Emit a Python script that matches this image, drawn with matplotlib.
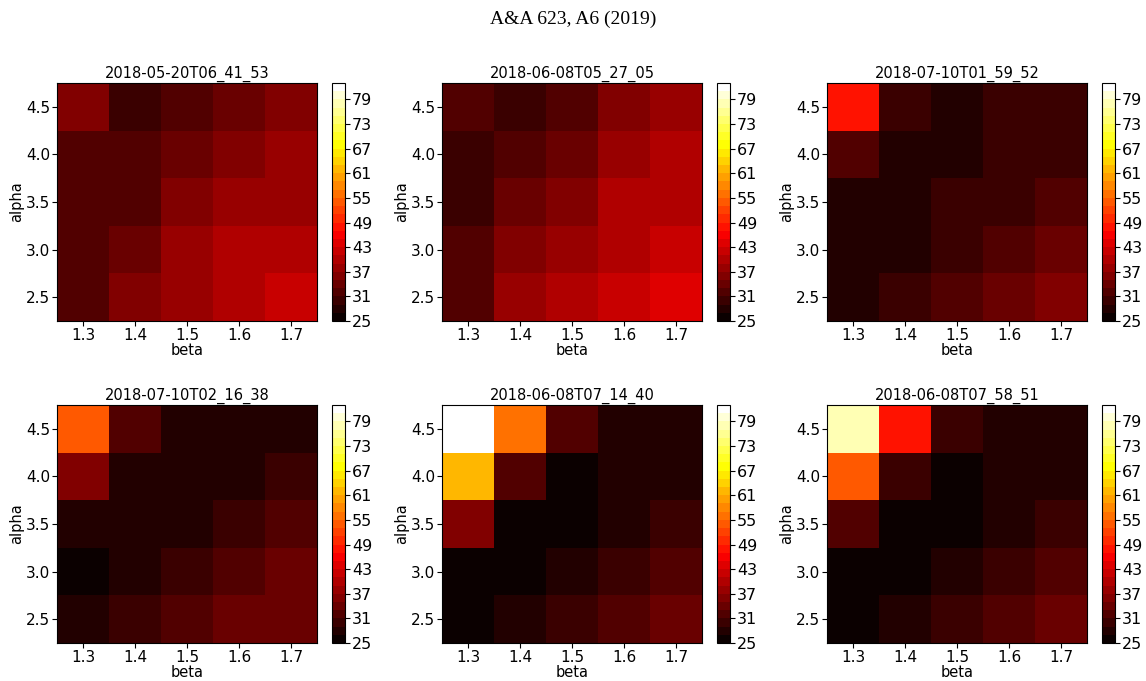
import numpy as np
import matplotlib
matplotlib.use("Agg")
import matplotlib.pyplot as plt
from matplotlib.colors import BoundaryNorm

beta = [1.3, 1.4, 1.5, 1.6, 1.7]
alpha = [2.5, 3.0, 3.5, 4.0, 4.5]

titles = ["2018-05-20T06_41_53", "2018-06-08T05_27_05", "2018-07-10T01_59_52",
          "2018-07-10T02_16_38", "2018-06-08T07_14_40", "2018-06-08T07_58_51"]

# rows listed from alpha=4.5 (top) down to alpha=2.5 (bottom); columns beta 1.3..1.7
p1 = [[36, 30, 32, 34, 36],
      [32, 32, 34, 36, 38],
      [32, 32, 36, 38, 38],
      [32, 34, 38, 40, 40],
      [32, 36, 38, 40, 42]]
p2 = [[32, 30, 32, 36, 38],
      [30, 32, 34, 38, 40],
      [30, 34, 36, 40, 40],
      [32, 36, 38, 40, 42],
      [32, 38, 40, 42, 44]]
p3 = [[48, 30, 28, 30, 30],
      [32, 28, 28, 30, 30],
      [28, 28, 30, 30, 32],
      [28, 28, 30, 32, 34],
      [28, 30, 32, 34, 36]]
p4 = [[54, 32, 28, 28, 28],
      [36, 28, 28, 28, 30],
      [28, 28, 28, 30, 32],
      [26, 28, 30, 32, 34],
      [28, 30, 32, 34, 34]]
p5 = [[82, 56, 32, 28, 28],
      [62, 32, 26, 28, 28],
      [36, 26, 26, 28, 30],
      [26, 26, 28, 30, 32],
      [26, 28, 30, 32, 34]]
p6 = [[78, 48, 30, 28, 28],
      [54, 30, 26, 28, 28],
      [32, 26, 26, 28, 30],
      [26, 26, 28, 30, 32],
      [26, 28, 30, 32, 34]]
panels = [p1, p2, p3, p4, p5, p6]

levels = np.arange(25, 84, 2)
cbar_ticks = [25, 31, 37, 43, 49, 55, 61, 67, 73, 79]

W, H = 1146, 681
fig = plt.figure(figsize=(W / 100, H / 100), dpi=100)
fig.suptitle("A&A 623, A6 (2019)", family="Liberation Serif", fontsize=14, y=0.985)

cmap = plt.get_cmap("hot")
norm = BoundaryNorm(levels, ncolors=cmap.N)

lefts = [57, 442, 827]
tops = [83, 405]
aw, ah = 260, 238
for i, (title, data) in enumerate(zip(titles, panels)):
    r, c = divmod(i, 3)
    x0 = lefts[c]
    y0 = tops[r]
    ax = fig.add_axes([x0 / W, 1 - (y0 + ah) / H, aw / W, ah / H])
    cax = fig.add_axes([(x0 + 275) / W, 1 - (y0 + ah) / H, 13 / W, ah / H])
    z = np.array(data)[::-1]
    mesh = ax.pcolormesh(beta, alpha, z, cmap=cmap, norm=norm, shading="nearest")
    ax.set_xticks(beta)
    ax.set_yticks(alpha)
    ax.tick_params(labelsize=11, pad=1.5)
    ax.set_xlabel("beta", fontsize=10.5, labelpad=0)
    ax.set_ylabel("alpha", fontsize=10.5, labelpad=1)
    ax.set_title(title, fontsize=10.5, pad=4)
    cb = fig.colorbar(mesh, cax=cax, ticks=cbar_ticks)
    cb.ax.minorticks_off()
    cb.ax.tick_params(labelsize=11.5, pad=1.5)

fig.savefig("out.png", dpi=100)
